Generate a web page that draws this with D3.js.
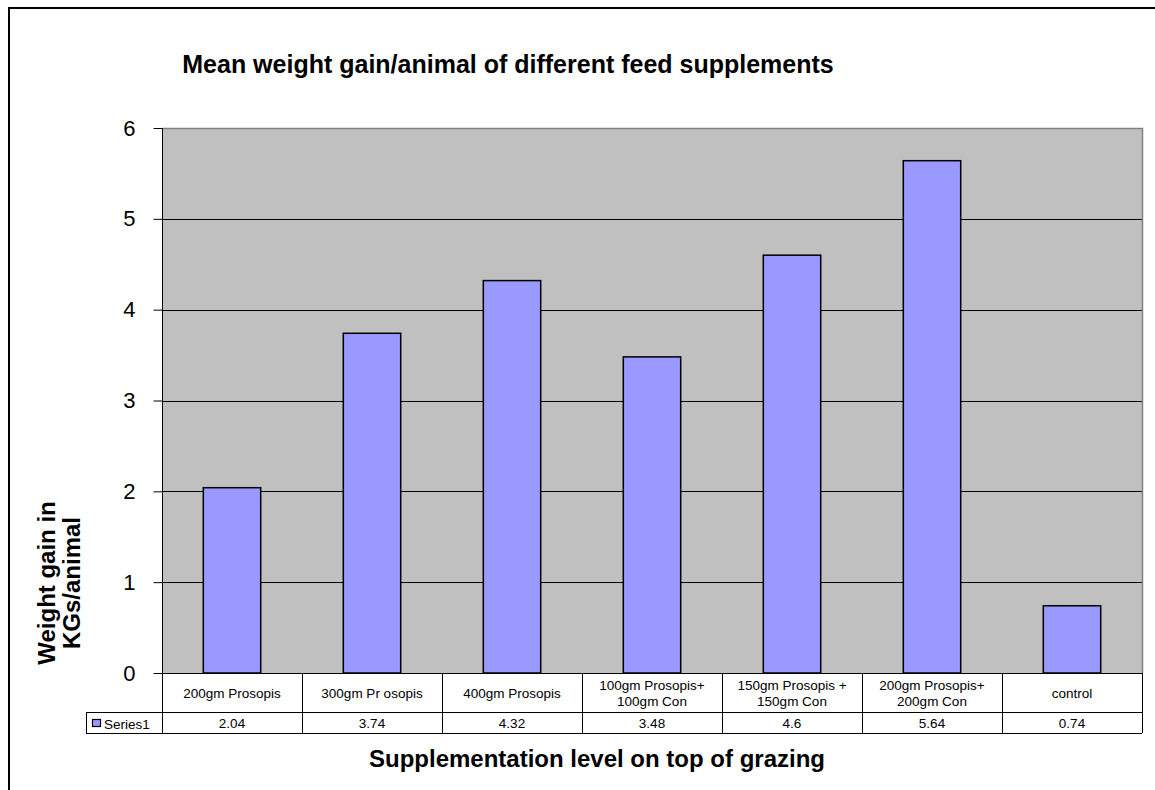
<!DOCTYPE html>
<html>
<head>
<meta charset="utf-8">
<script src="https://cdn.jsdelivr.net/npm/d3@7"></script>
<style>
  html, body { margin: 0; padding: 0; background: #fff; }
  svg { display: block; font-family: Arial, "Liberation Sans", sans-serif; }
</style>
</head>
<body>
<svg id="chart" width="1155" height="790"></svg>
<script>
// Mean weight gain per animal (kg) by feed supplement
const categories = [
  "200gm Prosopis",
  "300gm Pr osopis",
  "400gm Prosopis",
  "100gm Prosopis+\n100gm Con",
  "150gm Prosopis +\n150gm Con",
  "200gm Prosopis+\n200gm Con",
  "control"
];
const values = [2.04, 3.74, 4.32, 3.48, 4.6, 5.64, 0.74];
const valueLabels = ["2.04", "3.74", "4.32", "3.48", "4.6", "5.64", "0.74"];
const yTicks = [0, 1, 2, 3, 4, 5, 6];
const seriesName = "Series1";

const svg = d3.select("#chart");

const plot = { left: 162, right: 1142, top: 128, bottom: 673 };
const tableRow1 = 712, tableRow2 = 733, legendLeft = 86;
const smallFont = 13.5;

const x = d3.scaleBand().domain(categories).range([plot.left, plot.right]).padding(0);
const y = d3.scaleLinear().domain([0, 6]).range([plot.bottom, plot.top]);
const barW = x.bandwidth() * 0.41;

// outer chart frame
svg.append("path")
  .attr("d", `M9,790 V8 H1155`)
  .attr("fill", "none").attr("stroke", "#000").attr("stroke-width", 2);

// plot background
svg.append("rect")
  .attr("x", plot.left).attr("y", plot.top)
  .attr("width", plot.right - plot.left).attr("height", plot.bottom - plot.top)
  .attr("fill", "#c0c0c0");

// gridlines
svg.append("g").selectAll("line")
  .data(yTicks.filter(t => t > 0 && t < 6))
  .join("line")
  .attr("x1", plot.left).attr("x2", plot.right)
  .attr("y1", d => Math.round(y(d)) + 0.5).attr("y2", d => Math.round(y(d)) + 0.5)
  .attr("stroke", "#000").attr("stroke-width", 1);

// plot border top/right
svg.append("path")
  .attr("d", `M${plot.left},${plot.top + 0.5} H${plot.right + 0.5} V${plot.bottom}`)
  .attr("fill", "none").attr("stroke", "#808080").attr("stroke-width", 1.5);

// bars
svg.append("g").selectAll("rect")
  .data(values)
  .join("rect")
  .attr("x", (d, i) => x(categories[i]) + (x.bandwidth() - barW) / 2)
  .attr("y", d => y(d))
  .attr("width", barW)
  .attr("height", d => y(0) - y(d))
  .attr("fill", "#9999ff")
  .attr("stroke", "#000").attr("stroke-width", 1.5);

// y axis
const yAxis = d3.axisLeft(y).tickValues(yTicks).tickSize(9).tickPadding(18).tickFormat(d3.format("d"));
const gy = svg.append("g")
  .attr("transform", `translate(${plot.left + 0.5},0)`)
  .call(yAxis);
gy.select(".domain").attr("stroke", "#000").attr("d", `M0,${plot.top} V${plot.bottom}`);
gy.selectAll(".tick line").attr("stroke", "#000");
gy.selectAll(".tick text")
  .attr("font-size", 22).attr("fill", "#000")
  .attr("font-family", "Arial, 'Liberation Sans', sans-serif");

// data table lines
const tbl = svg.append("g").attr("stroke", "#000").attr("stroke-width", 1).attr("fill", "none");
tbl.append("line").attr("x1", plot.left).attr("x2", plot.right).attr("y1", plot.bottom + 0.5).attr("y2", plot.bottom + 0.5);
tbl.append("line").attr("x1", legendLeft).attr("x2", plot.right).attr("y1", tableRow1 + 0.5).attr("y2", tableRow1 + 0.5);
tbl.append("line").attr("x1", legendLeft).attr("x2", plot.right).attr("y1", tableRow2 + 0.5).attr("y2", tableRow2 + 0.5);
tbl.append("line").attr("x1", legendLeft + 0.5).attr("x2", legendLeft + 0.5).attr("y1", tableRow1).attr("y2", tableRow2);
const bounds = categories.map(c => x(c)).concat([plot.right]);
tbl.selectAll("line.v").data(bounds).join("line").attr("class", "v")
  .attr("x1", d => Math.round(d) + 0.5).attr("x2", d => Math.round(d) + 0.5)
  .attr("y1", plot.bottom).attr("y2", tableRow2);

// category labels
const catG = svg.append("g").attr("font-size", smallFont).attr("text-anchor", "middle").attr("fill", "#000");
categories.forEach(c => {
  const lines = c.split("\n");
  const cx = x(c) + x.bandwidth() / 2;
  const mid = (plot.bottom + tableRow1) / 2;
  const lh = 16;
  const t = catG.append("text").attr("x", cx);
  lines.forEach((ln, k) => {
    t.append("tspan").attr("x", cx)
      .attr("y", mid + 5 + (k - (lines.length - 1) / 2) * lh)
      .text(ln);
  });
});

// value row
svg.append("g").attr("font-size", smallFont).attr("text-anchor", "middle")
  .selectAll("text").data(valueLabels).join("text")
  .attr("x", (d, i) => x(categories[i]) + x.bandwidth() / 2)
  .attr("y", (tableRow1 + tableRow2) / 2 + 5.5)
  .text(d => d);

// legend key in table
svg.append("rect").attr("x", 92.5).attr("y", 719.5).attr("width", 8).attr("height", 7)
  .attr("fill", "#9999ff").attr("stroke", "#000").attr("stroke-width", 1.2);
svg.append("text").attr("x", 104).attr("y", 728.5).attr("font-size", smallFont).text(seriesName);

// titles
svg.append("text").attr("x", 508).attr("y", 73).attr("text-anchor", "middle")
  .attr("font-size", 25).attr("font-weight", "bold")
  .text("Mean weight gain/animal of different feed supplements");

svg.append("text").attr("x", 597).attr("y", 767).attr("text-anchor", "middle")
  .attr("font-size", 24).attr("font-weight", "bold")
  .text("Supplementation level on top of grazing");

const yt = svg.append("text").attr("transform", "translate(0,583) rotate(-90)")
  .attr("text-anchor", "middle").attr("font-size", 24).attr("font-weight", "bold");
yt.append("tspan").attr("x", 0).attr("y", 55).text("Weight gain in");
yt.append("tspan").attr("x", 0).attr("y", 80).text("KGs/animal");
</script>
</body>
</html>
